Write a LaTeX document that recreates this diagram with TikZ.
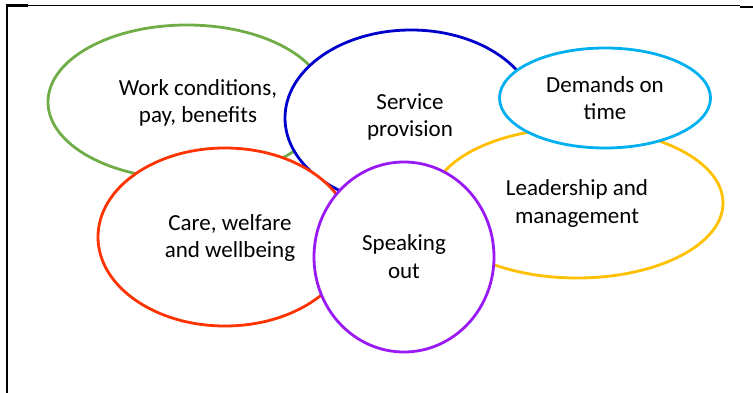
\documentclass[tikz,border=0pt]{standalone}
\usepackage{fontspec}
\setmainfont{Carlito}
\usetikzlibrary{shapes.geometric}
\definecolor{cgreen}{HTML}{70AD47}
\definecolor{cblue}{HTML}{0000CC}
\definecolor{ccyan}{HTML}{00B0F0}
\definecolor{cyellow}{HTML}{FFC000}
\definecolor{cred}{HTML}{FF3300}
\definecolor{cpurple}{HTML}{9A1AF5}
\begin{document}
\begin{tikzpicture}[x=1pt,y=-1pt,
  bubble/.style={ellipse,draw=#1,fill=white,line width=2.8pt,inner sep=0pt},
  label/.style={anchor=base,align=center,inner sep=0pt,text=black,
    font=\fontsize{23}{27.5}\selectfont}]
\useasboundingbox (0,0) rectangle (753,393);
% page frame
\draw[line width=1pt] (7,6) -- (740,6);
\draw[line width=2.5pt] (7,5) -- (7,393);
\draw[line width=3pt] (6,5.5) -- (28,5.5);
\draw[line width=2pt] (740,7) -- (753,7);
% bubbles, back to front
\node[bubble=cgreen, minimum width=278pt, minimum height=154pt] (work) at (187,102) {};
\node[bubble=cblue, minimum width=252pt, minimum height=176pt] (service) at (411,118) {};
\node[bubble=cyellow, minimum width=292pt, minimum height=150pt] (lead) at (577,203) {};
\node[bubble=ccyan, minimum width=211pt, minimum height=100pt] (demand) at (605,98) {};
\node[bubble=cred, minimum width=254pt, minimum height=178pt] (care) at (225,237) {};
\node[bubble=cpurple, minimum width=180pt, minimum height=190pt] (speak) at (404,257) {};
% labels
\node[label] (workT) at (198,123) {Work conditions,\\pay, benefits};
\node[label] (serviceT) at (410,137) {Service\\provision};
\node[label] (demandT) at (605,120) {Demands on\\time};
\node[label] (leadT) at (577,223) {Leadership and\\management};
\node[label] (careT) at (230,258) {Care, welfare\\and wellbeing};
\node[label] (speakT) at (404,278) {Speaking\\out};
\end{tikzpicture}
\end{document}
